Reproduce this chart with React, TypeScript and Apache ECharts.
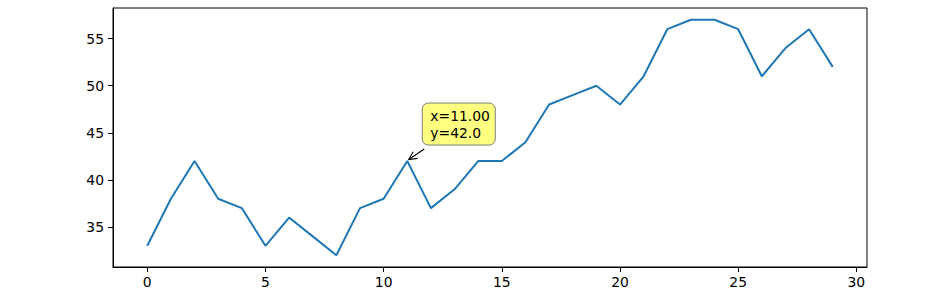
import React, { useEffect, useRef } from "react";
import * as echarts from "echarts";

const xValues = [0,1,2,3,4,5,6,7,8,9,10,11,12,13,14,15,16,17,18,19,20,21,22,23,24,25,26,27,28,29];
const yValues = [33,38,42,38,37,33,36,34,32,37,38,42,37,39,42,42,44,48,49,50,48,51,56,57,57,56,51,54,56,52];
const xTicks = [0, 5, 10, 15, 20, 25, 30];
const yTicks = [35, 40, 45, 50, 55];
const annotPoint = [11, 42];
const annotLines = ["x=11.00", "y=42.0"];

export default function App() {
  const ref = useRef<HTMLDivElement>(null);
  useEffect(() => {
    if (!ref.current) return;
    const chart = echarts.init(ref.current, null, { renderer: "svg" });
    const font = "DejaVu Sans";
    const xMin = Math.min(...xValues), xMax = Math.max(...xValues);
    const yMin = Math.min(...yValues), yMax = Math.max(...yValues);
    const xm = (xMax - xMin) * 0.05, ym = (yMax - yMin) * 0.05;
    chart.setOption({
      animation: false,
      grid: { left: 113, right: 84, top: 8, bottom: 31, show: true, borderColor: "#000", borderWidth: 1, backgroundColor: "transparent" },
      xAxis: {
        type: "value", min: xMin - xm, max: xMax + xm,
        splitLine: { show: false },
        axisLine: { show: true, onZero: false, lineStyle: { color: "#000", width: 1 } },
        axisTick: { show: true, length: 5, lineStyle: { color: "#000", width: 1 }, customValues: xTicks },
        axisLabel: { color: "#000", fontFamily: font, fontSize: 13.9, margin: 8, customValues: xTicks, formatter: (v: number) => String(v) },
      },
      yAxis: {
        type: "value", min: yMin - ym, max: yMax + ym,
        splitLine: { show: false },
        axisLine: { show: true, onZero: false, lineStyle: { color: "#000", width: 1 } },
        axisTick: { show: true, length: 5, lineStyle: { color: "#000", width: 1 }, customValues: yTicks },
        axisLabel: { color: "#000", fontFamily: font, fontSize: 13.9, margin: 9, customValues: yTicks, formatter: (v: number) => String(v) },
      },
      series: [{
        type: "line",
        data: xValues.map((x, i) => [x, yValues[i]]),
        showSymbol: false,
        lineStyle: { color: "#1f77b4", width: 2 },
      }],
    });
    const P = chart.convertToPixel({ seriesIndex: 0 }, annotPoint) as number[];
    const sx = P[0] + 17, sy = P[1] - 12;
    const tx = P[0] + 1.5, ty = P[1] - 1.5;
    const dx = tx - sx, dy = ty - sy, L = Math.hypot(dx, dy);
    const ux = dx / L, uy = dy / L;
    const hl = 8, hw = 4;
    const bx = tx - ux * hl, by = ty - uy * hl;
    const px = -uy, py = ux;
    chart.setOption({
      graphic: [
        { type: "line", shape: { x1: sx, y1: sy, x2: tx, y2: ty }, style: { stroke: "#000", lineWidth: 1.1 }, z: 10 },
        { type: "polyline", shape: { points: [[bx + px * hw, by + py * hw], [tx, ty], [bx - px * hw, by - py * hw]] }, style: { stroke: "#000", lineWidth: 1.1, fill: null }, z: 10 },
        { type: "rect", shape: { x: P[0] + 15, y: P[1] - 58, width: 73, height: 42, r: 6 }, style: { fill: "#ffff80", stroke: "#7f7f7f", lineWidth: 1 }, z: 11 },
        { type: "text", x: P[0] + 23, y: P[1] - 54, style: { text: annotLines.join("\n"), fill: "#000", font: `13.9px '${font}'`, lineHeight: 17, textVerticalAlign: "top" }, z: 12 },
      ],
    });
    return () => chart.dispose();
  }, []);
  return <div ref={ref} style={{ width: 951, height: 298, position: "absolute", left: 0, top: 0 }} />;
}
